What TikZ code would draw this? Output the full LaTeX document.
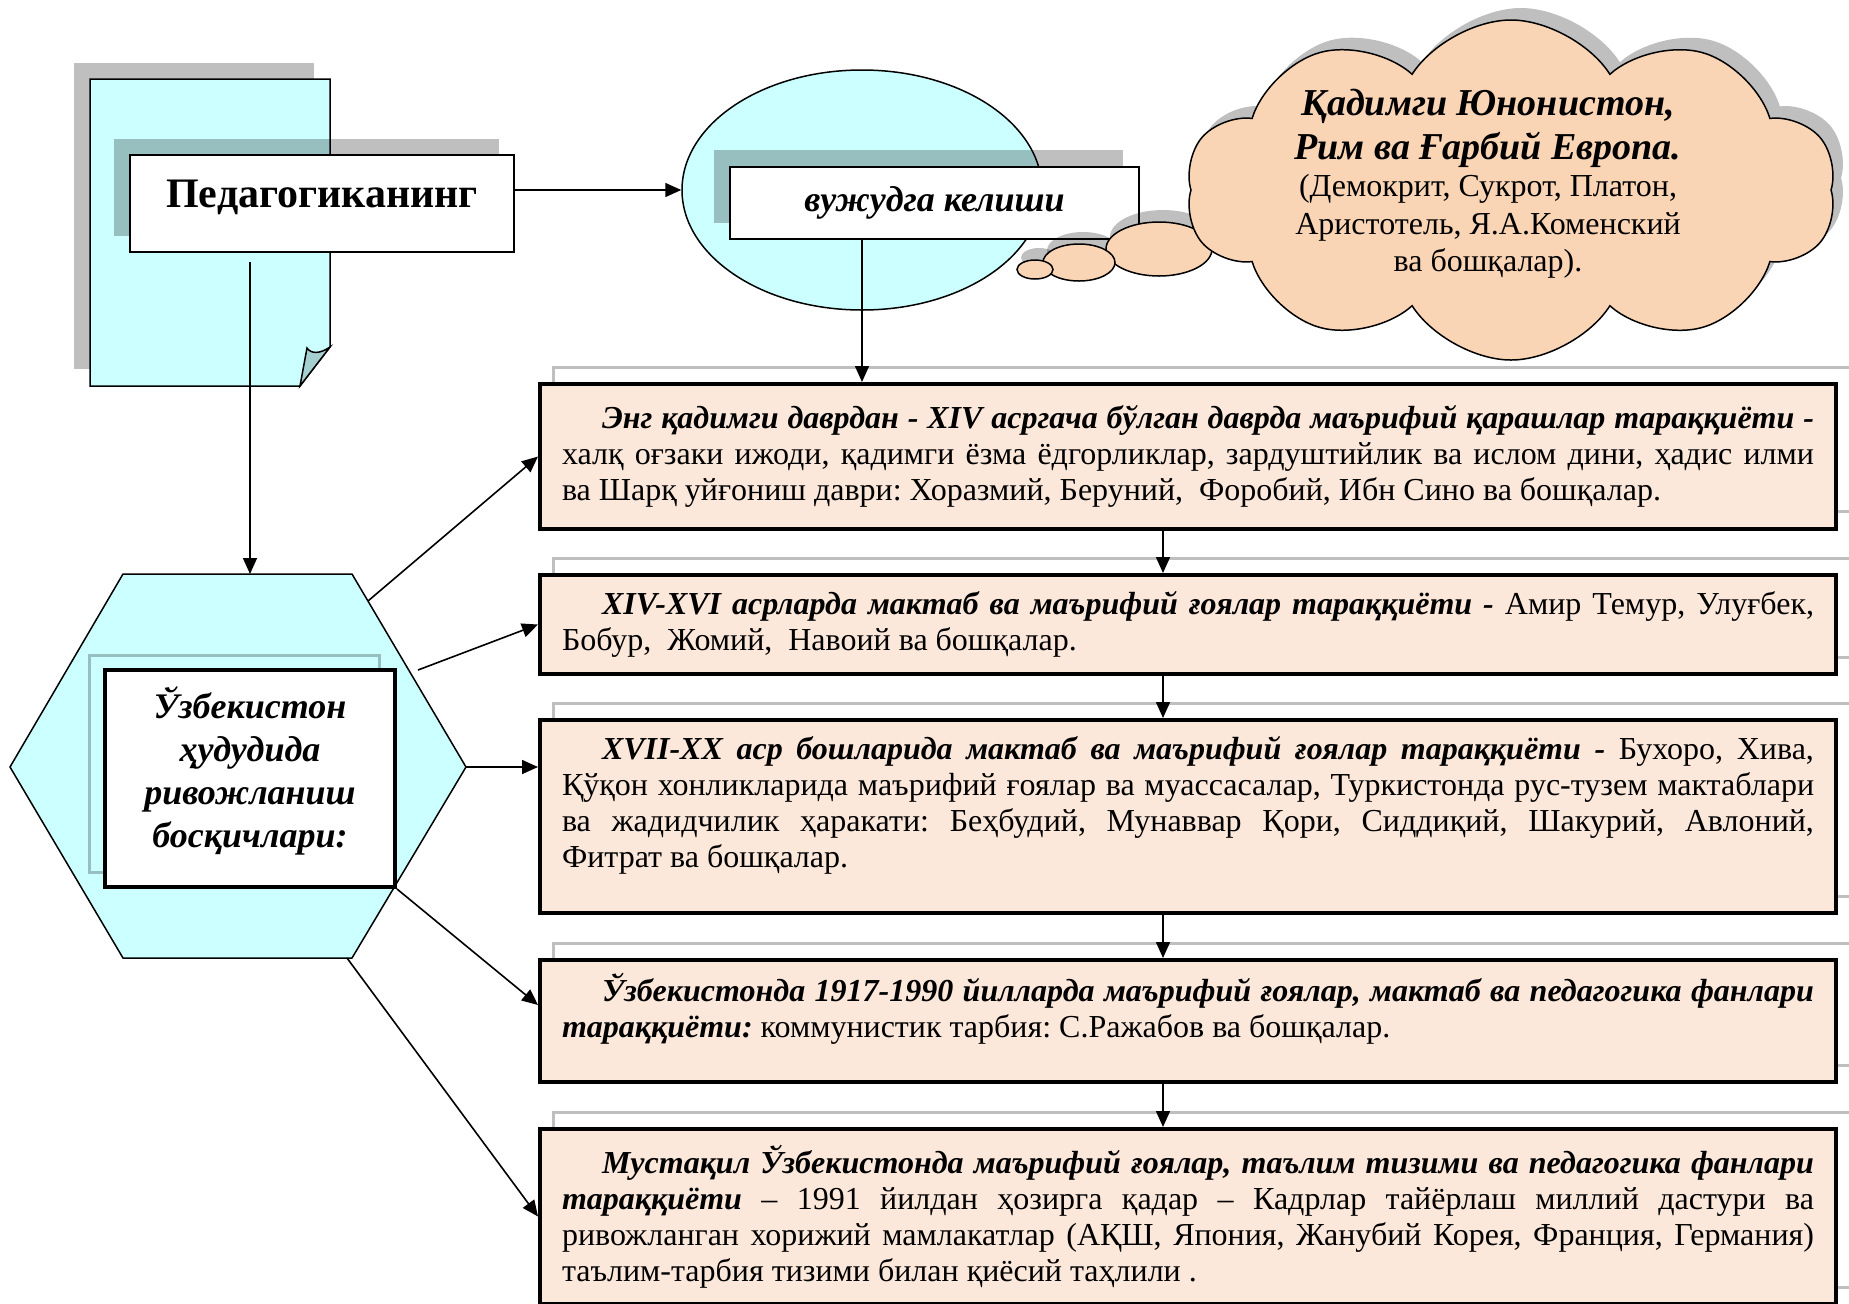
\documentclass[tikz,border=0pt]{standalone}
\usepackage{fontspec}
\setmainfont{Liberation Serif}
\frenchspacing
\usetikzlibrary{arrows.meta,shapes.geometric,shapes.symbols,calc}

\definecolor{cyanfill}{RGB}{204,255,255}
\definecolor{peach}{RGB}{252,232,218}
\definecolor{tanfill}{RGB}{250,213,181}
\definecolor{foldcol}{RGB}{166,208,208}

\tikzset{every picture/.style={line width=0.75pt}}
\tikzset{
  shade/.style={fill=black,fill opacity=0.25,draw=none},
  frameshade/.style={draw=black,draw opacity=0.25,line width=1.5pt},
  stagebox/.style={draw,line width=2pt,fill=peach,anchor=north west,inner xsep=11pt,inner ysep=3pt,
    text width=626pt,align=justify,font=\fontsize{16}{18}\selectfont},
  arr/.style={-{Triangle[length=8pt,width=7pt]},line width=0.8pt},
  bolditem/.style={font=\fontsize{#1}{#1}\selectfont\bfseries\itshape},
  cloudshape/.style={cloud,cloud puffs=10,cloud puff arc=115,aspect=2,minimum width=325pt,minimum height=170pt},
}

\begin{document}
\begin{tikzpicture}[x=0.5pt,y=0.5pt,yscale=-1]
\useasboundingbox (0,0) rectangle (1849,1303);

%Folded page
\fill[shade] (74,63) rectangle (314,369);
\draw[fill=cyanfill] (90,79) -- (330,79) -- (330,347) -- (300,386) -- (90,386) -- cycle;
\draw[fill=foldcol] (300,386) -- (307,348) .. controls (311,354) and (320,354) .. (330,347) -- cycle;

%Pedagogy box
\fill[shade] (114,139) rectangle (499,236);
\node[draw,fill=white,line width=1pt,minimum width=192pt,minimum height=48.5pt,font=\fontsize{21}{24}\selectfont\bfseries] (ped) at (322,203.5) {Педагогиканинг\rule[-10pt]{0pt}{0pt}};

%Ellipse
\node[ellipse,draw,fill=cyanfill,minimum width=180pt,minimum height=120pt] (ell) at (862,190) {};

%vujudga box
\fill[shade] (714,150) rectangle (1123,223);
\node[draw,fill=white,line width=1pt,minimum width=204.5pt,minimum height=36pt,bolditem=18] (vuj) at (934.5,203) {вужудга келиши};

%Thought bubbles
\fill[shade] (1163,237) ellipse [x radius=53, y radius=27];
\fill[shade] (1083,250.5) ellipse [x radius=36, y radius=18.5];
\fill[shade] (1039,257.5) ellipse [x radius=18, y radius=9.5];
\draw[fill=tanfill] (1159,249) ellipse [x radius=53, y radius=27];
\draw[fill=tanfill] (1079,262.5) ellipse [x radius=36, y radius=18.5];
\draw[fill=tanfill] (1035,269.5) ellipse [x radius=18, y radius=9.5];

%Cloud
\node[cloudshape,shade] (cloudshade) at (1521,178) {};
\node[cloudshape,draw,fill=tanfill] (cloud) at (1511,190) {};
\node[align=center,font=\fontsize{16}{18.75}\selectfont] (cloudtext) at (1488,184) {{\fontsize{19}{20}\selectfont\bfseries\itshape Қадимги Юнонистон,}\\[3pt]{\fontsize{19}{20}\selectfont\bfseries\itshape Рим ва Ғарбий Европа.}\\(Демокрит, Сукрот, Платон,\\Аристотель, Я.А.Коменский\\ва бошқалар).};

%Stage boxes
\draw[frameshade] (553,367) rectangle (1852,511);
\node[stagebox,minimum height=72.5pt] (b1) at (538,382) {\hspace*{20pt}\textbf{\textit{Энг қадимги даврдан - XIV асргача бўлган даврда маърифий қарашлар тараққиёти -}}\linebreak халқ оғзаки ижоди, қадимги ёзма ёдгорликлар, зардуштийлик ва ислом дини, ҳадис илми\linebreak ва Шарқ уйғониш даври: Хоразмий, Беруний,~ Форобий, Ибн Сино ва бошқалар.};

\draw[frameshade] (553,558) rectangle (1852,657);
\node[stagebox,minimum height=49.5pt] (b2) at (538,573) {\hspace*{20pt}\textbf{\textit{XIV-XVI асрларда мактаб ва маърифий ғоялар тараққиёти -}} Амир Темур, Улуғбек,\linebreak Бобур,~ Жомий,~ Навоий ва бошқалар.};

\draw[frameshade] (553,703) rectangle (1852,896);
\node[stagebox,minimum height=96.5pt] (b3) at (538,718) {\hspace*{20pt}\textbf{\textit{XVII-XX аср бошларида мактаб ва маърифий ғоялар тараққиёти -}} Бухоро, Хива,\linebreak Қўқон хонликларида маърифий ғоялар ва муассасалар, Туркистонда рус-тузем мактаблари\linebreak ва жадидчилик ҳаракати: Беҳбудий, Мунаввар Қори, Сиддиқий, Шакурий, Авлоний,\linebreak Фитрат ва бошқалар.\rule[-15pt]{0pt}{0pt}};

\draw[frameshade] (553,943) rectangle (1852,1065);
\node[stagebox,minimum height=61pt] (b4) at (538,958) {\hspace*{20pt}\textbf{\textit{Ўзбекистонда 1917-1990 йилларда маърифий ғоялар, мактаб ва педагогика фанлари\linebreak тараққиёти:}} коммунистик тарбия: С.Ражабов ва бошқалар.\rule[-16pt]{0pt}{0pt}};

\draw[frameshade] (553,1112) rectangle (1852,1287);
\node[stagebox,minimum height=87.5pt] (b5) at (538,1127) {\hspace*{20pt}\textbf{\textit{Мустақил Ўзбекистонда маърифий ғоялар, таълим тизими ва педагогика фанлари\linebreak тараққиёти}} – 1991 йилдан ҳозирга қадар – Кадрлар тайёрлаш миллий дастури ва\linebreak ривожланган хорижий мамлакатлар (АҚШ, Япония, Жанубий Корея, Франция, Германия)\linebreak таълим-тарбия тизими билан қиёсий таҳлили .};

%Hexagon
\coordinate (hL) at (10,767);
\coordinate (hTL) at (123,574);
\coordinate (hTR) at (352,574);
\coordinate (hR) at (466,767);
\coordinate (hBR) at (352,958);
\coordinate (hBL) at (123,958);
\draw[fill=cyanfill] (hL) -- (hTL) -- (hTR) -- (hR) -- (hBR) -- (hBL) -- cycle;
\draw[frameshade] (89,655) rectangle (379,872);
\node[draw,fill=white,line width=2pt,minimum width=145pt,minimum height=108.5pt,align=center,
  font=\fontsize{18}{21.5}\selectfont\bfseries\itshape] (hexbox) at (250,778.5)
  {Ўзбекистон\\ҳудудида\\ривожланиш\\босқичлари:\rule[-11.5pt]{0pt}{0pt}};

%Connectors
\coordinate (vx) at (1163,0);
\coordinate (pedfoot) at (250,262);
\coordinate (s1) at ($(hTR)!0.14!(hR)$);
\coordinate (s2) at (418,670);
\coordinate (s5) at (347,958);
\coordinate (e4) at (538,1005);
\draw[arr] (ped.east |- ell.west) -- (ell.west);
\draw[arr] (pedfoot) -- (pedfoot |- hTL);
\draw[arr] (vuj.south -| ell) -- (b1.north -| ell);
\draw[arr] (b1.south -| vx) -- (b2.north -| vx);
\draw[arr] (b2.south -| vx) -- (b3.north -| vx);
\draw[arr] (b3.south -| vx) -- (b4.north -| vx);
\draw[arr] (b4.south -| vx) -- (b5.north -| vx);
\draw[arr] (s1) -- (b1.west);
\draw[arr] (s2) -- (b2.west);
\draw[arr] (hR) -- (hR -| b3.west);
\draw[arr] (hexbox.south east) -- (e4);
\draw[arr] (s5) -- (b5.west);

\end{tikzpicture}
\end{document}
